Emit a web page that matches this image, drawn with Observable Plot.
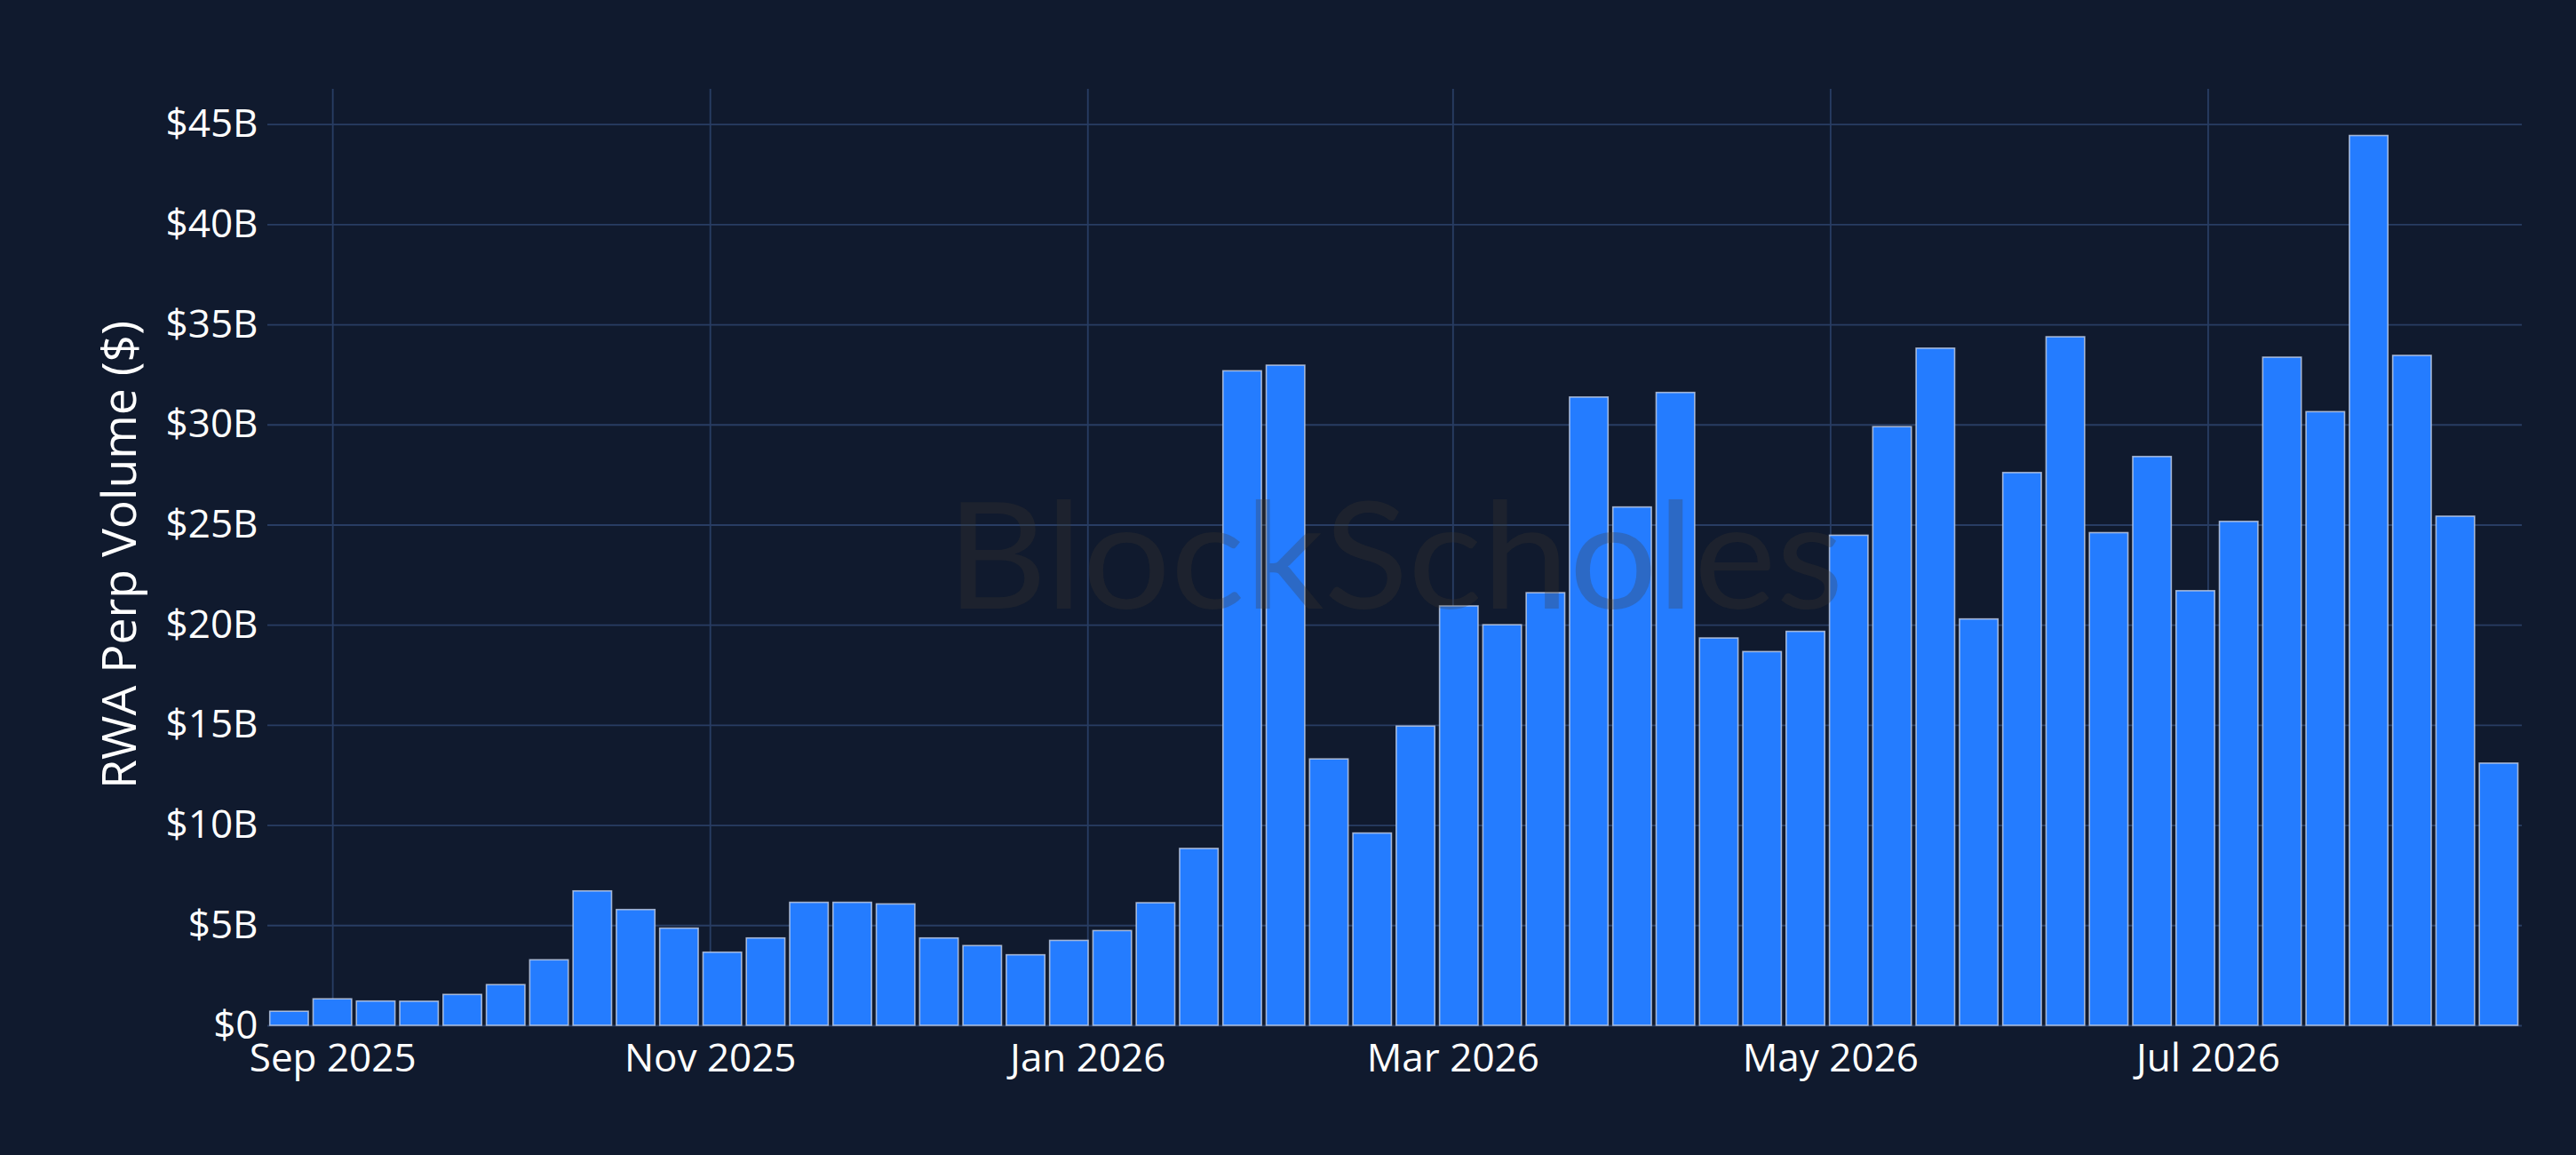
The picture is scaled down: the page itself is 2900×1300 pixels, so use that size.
<!DOCTYPE html>
<html>
<head>
<meta charset="utf-8">
<script src="https://cdn.jsdelivr.net/npm/d3@7"></script>
<script src="https://cdn.jsdelivr.net/npm/@observablehq/plot@0.6"></script>
<style>
  html, body { margin: 0; padding: 0; background: #101a2e; }
  #chart svg { display: block; overflow: visible; }
</style>
</head>
<body>
<div id="chart"></div>
<script>
// Weekly periods (week starting Monday)
const weeks = [
  "2025-08-25","2025-09-01","2025-09-08","2025-09-15","2025-09-22","2025-09-29",
  "2025-10-06","2025-10-13","2025-10-20","2025-10-27","2025-11-03","2025-11-10",
  "2025-11-17","2025-11-24","2025-12-01","2025-12-08","2025-12-15","2025-12-22",
  "2025-12-29","2026-01-05","2026-01-12","2026-01-19","2026-01-26","2026-02-02",
  "2026-02-09","2026-02-16","2026-02-23","2026-03-02","2026-03-09","2026-03-16",
  "2026-03-23","2026-03-30","2026-04-06","2026-04-13","2026-04-20","2026-04-27",
  "2026-05-04","2026-05-11","2026-05-18","2026-05-25","2026-06-01","2026-06-08",
  "2026-06-15","2026-06-22","2026-06-29","2026-07-06","2026-07-13","2026-07-20",
  "2026-07-27","2026-08-03","2026-08-10","2026-08-17"
];
// RWA perp volume, billions of USD
const volumeB = [
  0.70, 1.32, 1.21, 1.20, 1.54, 2.03,
  3.27, 6.71, 5.78, 4.85, 3.65, 4.36,
  6.14, 6.14, 6.06, 4.36, 3.98, 3.52,
  4.24, 4.73, 6.12, 8.83, 32.68, 32.96,
  13.30, 9.60, 14.94, 20.94, 20.00, 21.60,
  31.37, 25.88, 31.60, 19.34, 18.66, 19.67,
  24.47, 29.89, 33.81, 20.29, 27.60, 34.38,
  24.60, 28.40, 21.70, 25.16, 33.36, 30.64,
  44.43, 33.45, 25.42, 13.09
];
const xTickDates = ["2025-09-01","2025-11-01","2026-01-01","2026-03-01","2026-05-01","2026-07-01"];
const xTickLabels = ["Sep 2025","Nov 2025","Jan 2026","Mar 2026","May 2026","Jul 2026"];
const yTicks = [0, 5, 10, 15, 20, 25, 30, 35, 40, 45];
const yTickLabels = ["$0","$5B","$10B","$15B","$20B","$25B","$30B","$35B","$40B","$45B"];
const yTitle = "RWA Perp Volume ($)";
const watermark = "BlockScholes";

const data = weeks.map((w, i) => ({date: new Date(w + "T00:00:00Z"), v: volumeB[i]}));
const xTicks = xTickDates.map(d => new Date(d + "T00:00:00Z"));
const halfWeek = 3.5 * 864e5;
const gridColor = "#283d63";

const chart = Plot.plot({
  width: 2900,
  height: 1300,
  marginLeft: 301,
  marginRight: 61,
  marginTop: 100,
  marginBottom: 146,
  style: {background: "#101a2e", color: "#ffffff", fontFamily: "'Open Sans', sans-serif", fontSize: "44px"},
  x: {type: "utc", domain: [new Date("2025-08-21T12:00:00Z"), new Date("2026-08-20T18:00:00Z")]},
  y: {domain: [0, 46.76]},
  marks: [
    Plot.gridY(yTicks, {stroke: gridColor, strokeOpacity: 1, strokeWidth: 1.85}),
    Plot.gridX(xTicks, {stroke: gridColor, strokeOpacity: 1, strokeWidth: 1.85}),
    Plot.rectY(data, {
      x1: d => new Date(+d.date - halfWeek),
      x2: d => new Date(+d.date + halfWeek),
      y1: 0,
      y2: "v",
      fill: "#247cff",
      stroke: "#c4d0e6",
      strokeOpacity: 0.8,
      strokeWidth: 1.6,
      insetLeft: 2.7,
      insetRight: 2.7
    }),
    Plot.text([watermark], {
      frameAnchor: "middle",
      text: d => d,
      fontSize: 166,
      fontFamily: "Lato, 'Open Sans', sans-serif",
      fill: "#403830",
      fillOpacity: 0.28,
      lineAnchor: "middle",
      dy: 4
    }),
    Plot.axisX(xTicks, {
      tickSize: 0,
      tickPadding: 20,
      tickFormat: d => xTickLabels[xTicks.findIndex(t => +t === +d)],
      fontSize: 44,
      fill: "#ffffff",
      label: null
    }),
    Plot.axisY(yTicks, {
      tickSize: 0,
      tickPadding: 11,
      tickFormat: d => yTickLabels[yTicks.indexOf(d)],
      fontSize: 44,
      fill: "#ffffff",
      label: null
    }),
    Plot.text([yTitle], {
      frameAnchor: "left",
      text: d => d,
      dx: -166,
      dy: -3,
      rotate: -90,
      fontSize: 53.5,
      fill: "#ffffff",
      lineAnchor: "middle",
      textAnchor: "middle"
    })
  ]
});

document.getElementById("chart").appendChild(chart);

// stretch watermark to its drawn width
d3.select(chart).selectAll("text").filter(function() { return this.textContent === watermark; })
  .attr("textLength", 1010)
  .attr("lengthAdjust", "spacingAndGlyphs");
</script>
</body>
</html>
